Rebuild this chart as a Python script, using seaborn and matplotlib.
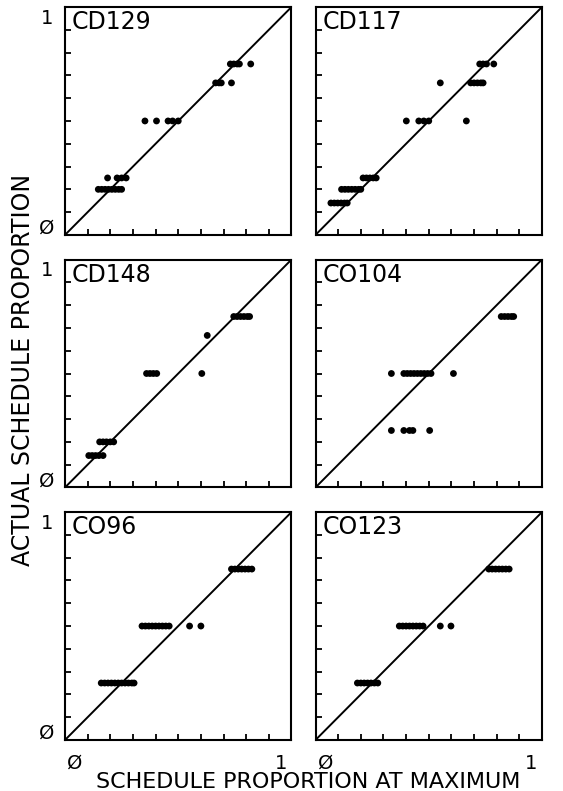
import numpy as np
import pandas as pd
import matplotlib
matplotlib.use("Agg")
import matplotlib.pyplot as plt
import seaborn as sns

# ---------------- data ----------------
subjects = ["CD129", "CD117", "CD148", "CO104", "CO96", "CO123"]

cd129_x = [0.73, 0.745, 0.76, 0.77, 0.82,
           0.665, 0.68, 0.69, 0.735,
           0.353, 0.404, 0.455, 0.475, 0.50,
           0.188, 0.23, 0.25, 0.27,
           0.147, 0.162, 0.177, 0.192, 0.207, 0.222, 0.237, 0.25]
cd129_y = [0.75] * 5 + [0.667] * 4 + [0.5] * 5 + [0.25] * 4 + [0.2] * 8

cd117_x = [0.725, 0.74, 0.755, 0.787,
           0.551, 0.685, 0.70, 0.715, 0.73, 0.74,
           0.401, 0.456, 0.478, 0.50, 0.666,
           0.21, 0.225, 0.24, 0.255, 0.268,
           0.115, 0.13, 0.145, 0.16, 0.175, 0.19, 0.20,
           0.068, 0.083, 0.098, 0.113, 0.128, 0.14]
cd117_y = [0.75] * 4 + [0.667] * 6 + [0.5] * 5 + [0.25] * 5 + [0.2] * 7 + [0.14] * 6

cd148_x = [0.745, 0.76, 0.775, 0.79, 0.805, 0.815,
           0.628,
           0.36, 0.375, 0.39, 0.405, 0.604,
           0.153, 0.168, 0.183, 0.20, 0.215,
           0.105, 0.12, 0.135, 0.15, 0.168]
cd148_y = [0.75] * 6 + [0.667] + [0.5] * 5 + [0.2] * 5 + [0.14] * 5

co104_x = [0.82, 0.835, 0.85, 0.865, 0.875,
           0.335, 0.39, 0.405, 0.42, 0.435, 0.45, 0.465, 0.48, 0.495, 0.51, 0.609,
           0.335, 0.39, 0.415, 0.43, 0.504]
co104_y = [0.75] * 5 + [0.5] * 11 + [0.25] * 5

co96_x = [0.735, 0.75, 0.765, 0.78, 0.795, 0.81, 0.825,
          0.34, 0.355, 0.37, 0.385, 0.40, 0.415, 0.43, 0.445, 0.46, 0.55, 0.60,
          0.16, 0.175, 0.19, 0.205, 0.22, 0.235, 0.25, 0.265, 0.28, 0.295, 0.305]
co96_y = [0.75] * 7 + [0.5] * 11 + [0.25] * 11

co123_x = [0.765, 0.78, 0.795, 0.81, 0.825, 0.84, 0.855,
           0.37, 0.385, 0.40, 0.415, 0.43, 0.445, 0.46, 0.475, 0.551, 0.598,
           0.185, 0.20, 0.215, 0.23, 0.245, 0.26, 0.275]
co123_y = [0.75] * 7 + [0.5] * 10 + [0.25] * 7

xs = [cd129_x, cd117_x, cd148_x, co104_x, co96_x, co123_x]
ys = [cd129_y, cd117_y, cd148_y, co104_y, co96_y, co123_y]

frames = []
for name, x, y in zip(subjects, xs, ys):
    frames.append(pd.DataFrame({"subject": name, "x": x, "y": y}))
df = pd.concat(frames, ignore_index=True)

ident = pd.DataFrame({"x": [0.0, 1.0], "y": [0.0, 1.0]})

xlabel = "SCHEDULE PROPORTION AT MAXIMUM"
ylabel = "ACTUAL SCHEDULE PROPORTION"
tick_lo = "Ø"
tick_hi = "1"

# ---------------- plot ----------------
sns.set_theme(style="white")
plt.rcParams["font.family"] = ["DejaVu Sans"]

fig, axes = plt.subplots(3, 2, figsize=(5.63, 7.91), dpi=100)
fig.subplots_adjust(left=65 / 563, right=542 / 563, top=1 - 7 / 791,
                    bottom=1 - 740 / 791, wspace=0.106, hspace=0.108)

for i, (ax, name) in enumerate(zip(axes.flat, subjects)):
    sub = df[df["subject"] == name]
    sns.lineplot(data=ident, x="x", y="y", ax=ax, color="black", lw=1.4)
    sns.scatterplot(data=sub, x="x", y="y", ax=ax, color="black", s=24,
                    marker="o", edgecolor="none", linewidth=0, zorder=3)
    ax.set_xlim(0, 1)
    ax.set_ylim(0, 1)
    ax.set_xticks(np.arange(0, 1.01, 0.1))
    ax.set_yticks(np.arange(0, 1.01, 0.1))
    ax.set_xticklabels([])
    ax.set_yticklabels([])
    ax.tick_params(direction="in", length=4.5, width=1.3, color="black",
                   bottom=True, left=True, top=False, right=False)
    ax.set_xlabel("")
    ax.set_ylabel("")
    for sp in ax.spines.values():
        sp.set_color("black")
        sp.set_linewidth(1.5)
    ax.text(0.03, 0.985, name, transform=ax.transAxes, ha="left", va="top",
            fontsize=17, color="black")
    col = i % 2
    row = i // 2
    if col == 0:
        ax.text(-0.08, 0.95, tick_hi, transform=ax.transAxes, ha="center",
                va="center", fontsize=14, color="black")
        ax.text(-0.08, 0.03, tick_lo, transform=ax.transAxes, ha="center",
                va="center", fontsize=14, color="black")
    if row == 2:
        ax.text(0.01, -0.06, tick_lo, transform=ax.transAxes, ha="left",
                va="top", fontsize=14, color="black")
        ax.text(0.98, -0.06, tick_hi, transform=ax.transAxes, ha="right",
                va="top", fontsize=14, color="black")

fig.text(308 / 563, 1 - 782 / 791, xlabel, ha="center", va="center",
         fontsize=16, color="black")
fig.text(23 / 563, 1 - 370 / 791, ylabel, ha="center", va="center",
         rotation=90, fontsize=17, color="black")

fig.savefig("out.png", dpi=100, facecolor="white")
